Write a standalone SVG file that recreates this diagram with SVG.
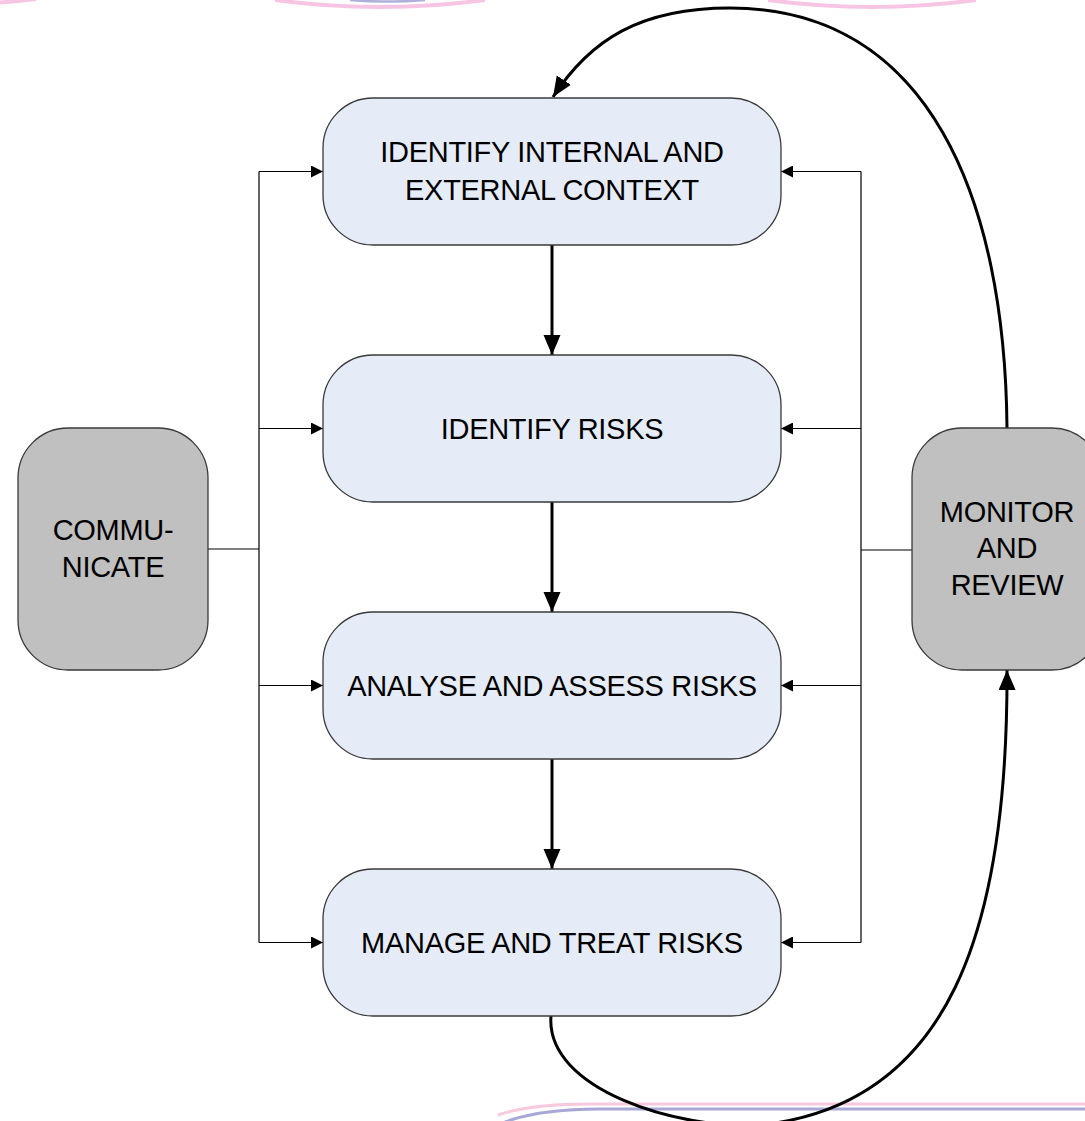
<svg xmlns="http://www.w3.org/2000/svg" width="1085" height="1121" viewBox="0 0 1085 1121">
<style>
.step{fill:#E6ECF7;stroke:#3a3a3a;stroke-width:1.3}
.side{fill:#C0C0C0;stroke:#3a3a3a;stroke-width:1.3}
.lbl{font-family:"Liberation Sans",Arial,sans-serif;font-size:29px;letter-spacing:-0.3px;fill:#000;text-anchor:middle}
.thin{fill:none;stroke:#000;stroke-width:1.2}
.thick{fill:none;stroke:#000;stroke-width:3}
.pink{fill:none;stroke:#F8C4E4;stroke-width:4}
.purp{fill:none;stroke:#AEAEDA;stroke-width:2.5}
</style>
<defs>
<marker id="ah" markerUnits="userSpaceOnUse" markerWidth="12" markerHeight="12" refX="12" refY="6" orient="auto">
<path d="M0,0 L12,6 L0,12 z" fill="#000"/>
</marker>
<marker id="ahb" markerUnits="userSpaceOnUse" markerWidth="20" markerHeight="18" refX="20" refY="8.5" orient="auto">
<path d="M0,0 L20,8.5 L0,17 z" fill="#000"/>
</marker>
</defs>
<rect width="1085" height="1121" fill="#fff"/>
<g id="decoration">
<path class="pink" d="M-5 3 Q15 1.5 36 -1"/>
<path class="pink" d="M275 0 Q380 14 485 0"/>
<path class="purp" d="M350 0 Q388 3 425 0"/>
<path class="pink" d="M768 0 Q872 14 976 0"/>
<path fill="none" stroke="#F8C8DE" stroke-width="3" d="M498 1115 Q530 1104 590 1104 L1090 1104"/>
<path fill="none" stroke="#A8A8D6" stroke-width="3" d="M505 1122 Q540 1109 600 1109 L1090 1109"/>
</g>
<g id="connectors">
<path class="thin" d="M208 549 H259 M259 171.5 V942.5"/>
<path class="thin" marker-end="url(#ah)" d="M259 171.5 H323"/>
<path class="thin" marker-end="url(#ah)" d="M259 428.5 H323"/>
<path class="thin" marker-end="url(#ah)" d="M259 685.5 H323"/>
<path class="thin" marker-end="url(#ah)" d="M259 942.5 H323"/>
<path class="thin" d="M912 550 H861 M861 171.5 V942.5"/>
<path class="thin" marker-end="url(#ah)" d="M861 171.5 H781"/>
<path class="thin" marker-end="url(#ah)" d="M861 428.5 H781"/>
<path class="thin" marker-end="url(#ah)" d="M861 685.5 H781"/>
<path class="thin" marker-end="url(#ah)" d="M861 942.5 H781"/>
<path class="thick" marker-end="url(#ahb)" d="M552 245 V355"/>
<path class="thick" marker-end="url(#ahb)" d="M552 502 V612"/>
<path class="thick" marker-end="url(#ahb)" d="M552 759 V869"/>
<path class="thick" marker-end="url(#ahb)" d="M1007 428 C1005 200 930 8 730 8 C640 8 590 40 553 97"/>
<path class="thick" marker-end="url(#ahb)" d="M551 1016 C545 1090 680 1130 760 1125 C950 1105 1008 930 1007 670"/>
</g>
<g id="node-context">
<rect class="step" x="323" y="98" width="458" height="147" rx="50"/>
<text class="lbl" x="552" y="162">IDENTIFY INTERNAL AND</text>
<text class="lbl" x="552" y="200">EXTERNAL CONTEXT</text>
</g>
<g id="node-identify">
<rect class="step" x="323" y="355" width="458" height="147" rx="50"/>
<text class="lbl" x="552" y="439">IDENTIFY RISKS</text>
</g>
<g id="node-analyse">
<rect class="step" x="323" y="612" width="458" height="147" rx="50"/>
<text class="lbl" x="552" y="696">ANALYSE AND ASSESS RISKS</text>
</g>
<g id="node-manage">
<rect class="step" x="323" y="869" width="458" height="147" rx="50"/>
<text class="lbl" x="552" y="953">MANAGE AND TREAT RISKS</text>
</g>
<g id="node-communicate">
<rect class="side" x="18" y="428" width="190" height="242" rx="50"/>
<text class="lbl" x="113" y="540">COMMU-</text>
<text class="lbl" x="113" y="577">NICATE</text>
</g>
<g id="node-monitor">
<rect class="side" x="912" y="428" width="190" height="242" rx="50"/>
<text class="lbl" x="1007" y="522">MONITOR</text>
<text class="lbl" x="1007" y="558">AND</text>
<text class="lbl" x="1007" y="595">REVIEW</text>
</g>
</svg>
